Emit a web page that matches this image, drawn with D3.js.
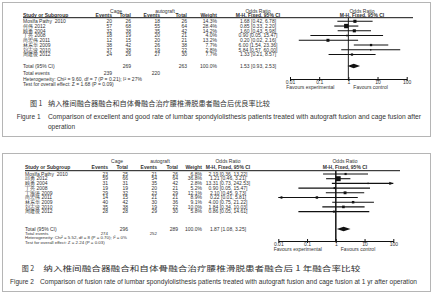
<!DOCTYPE html>
<html>
<head>
<meta charset="utf-8">
<script src="https://cdn.jsdelivr.net/npm/d3@7"></script>
<style>
  body { margin: 0; background: #fff; }
  svg { display: block; font-family: "Liberation Sans", Arial, sans-serif; }
  .cn { font-family: "Noto Sans CJK SC", sans-serif; }
</style>
</head>
<body>
<div id="chart"></div>
<script>
// ---- figure 1 : excellent and good rate ----
var studies1 = ["Moslfa Pathy  2010", "何伟 2012", "顾勇 2004", "丁亮 2008", "尚宏伟 2011", "林东华 2009", "刘志波 2010", "周建俊 2012"];
var cageEvents1 = [20, 57, 32, 18, 12, 38, 37, 24];
var cageTotal1 = [26, 68, 38, 19, 15, 42, 38, 26];
var autoEvents1 = [18, 55, 35, 20, 20, 26, 19, 27];
var autoTotal1 = [26, 64, 42, 21, 21, 38, 22, 30];
var weight1 = [14.3, 28.4, 14.2, 4.0, 13.2, 7.7, 2.8, 7.7];
var or1 = [1.68, 0.85, 1.60, 0.90, 0.20, 6.00, 5.84, 1.33];
var lo1 = [0.42, 0.33, 0.43, 0.05, 0.02, 1.54, 0.57, 0.21];
var hi1 = [6.78, 2.20, 5.98, 15.47, 2.16, 23.36, 60.00, 8.57];
var total1 = { cageTotal: 269, autoTotal: 263, cageEvents: 239, autoEvents: 220, or: 1.53, lo: 0.93, hi: 2.53 };
var hetero1 = "Heterogeneity: Chi² = 9.60, df = 7 (P = 0.21); I² = 27%";
var effect1 = "Test for overall effect: Z = 1.68 (P = 0.09)";

// ---- figure 2 : fusion rate at 1 yr ----
var studies2 = ["Moslfa Pathy  2010", "邱勇 2012", "顾勇 2004", "丁亮 2008", "丁海涛 2009", "尚宏伟 2011", "林东华 2009", "刘志波 2010", "周建俊 2012"];
var cageEvents2 = [23, 59, 31, 19, 29, 14, 40, 35, 28];
var cageTotal2 = [25, 66, 31, 19, 32, 15, 42, 38, 28];
var autoEvents2 = [21, 54, 35, 20, 23, 21, 30, 19, 29];
var autoTotal2 = [26, 64, 42, 21, 29, 21, 36, 22, 30];
var weight2 = [6.8, 36.8, 2.8, 5.2, 12.1, 8.9, 9.1, 10.0, 5.8];
var or2 = [2.19, 1.21, 13.31, 0.90, 2.10, 0.22, 4.00, 1.84, 0.86];
var lo2 = [0.36, 0.46, 0.73, 0.05, 0.45, 0.008, 0.75, 0.34, 0.05];
var hi2 = [13.22, 3.21, 242.53, 15.47, 9.73, 5.81, 21.22, 10.03, 14.61];
var total2 = { cageTotal: 296, autoTotal: 289, cageEvents: 274, autoEvents: 252, or: 1.87, lo: 1.08, hi: 3.25 };
var hetero2 = "Heterogeneity: Chi² = 5.52, df = 8 (P = 0.70); I² = 0%";
var effect2 = "Test for overall effect: Z = 2.24 (P = 0.03)";

var axisTicks = [0.01, 0.1, 1, 10, 100];

var W = 433, H = 300;
var svg = d3.select("#chart").append("svg").attr("width", W).attr("height", H);

function ciText(o, l, h) {
  return o.toFixed(2) + " [" + l.toFixed(2) + ", " + h.toFixed(2) + "]";
}

function forest(g, opt, d) {
  var txt = "#333", fs = 5;
  var x = d3.scaleLog().domain([0.01, 100]).range([opt.x0, opt.x1]);
  var size = d3.scaleSqrt().domain([0, 40]).range([0, 5.2]);

  var rows = d.studies.map(function(s, i) {
    return { name: s, ce: d.ce[i], ct: d.ct[i], ae: d.ae[i], at: d.at[i],
             w: d.w[i], or: d.or[i], lo: d.lo[i], hi: d.hi[i] };
  });
  var rowY = function(i) { return opt.row0 + i * opt.rowH; };

  function t(xp, yp, s, anchor, bold, size) {
    return g.append("text").attr("x", xp).attr("y", yp).attr("dy", "0.35em")
      .attr("text-anchor", anchor || "start")
      .attr("font-size", size || fs).attr("fill", txt)
      .attr("font-weight", bold ? "bold" : null)
      .style("white-space", "pre").text(s);
  }

  // headers
  t(opt.c.cageMid, opt.h1, "Cage", "middle");
  t(opt.c.autoMid, opt.h1, "autograft", "middle");
  t(opt.c.or, opt.h1, "Odds Ratio", "middle");
  t(opt.plotMid, opt.h1, "Odds Ratio", "middle");
  t(opt.c.name, opt.h2, "Study or Subgroup", "start", true);
  t(opt.c.ce, opt.h2, "Events", "end", true);
  t(opt.c.ct, opt.h2, "Total", "end", true);
  t(opt.c.ae, opt.h2, "Events", "end", true);
  t(opt.c.at, opt.h2, "Total", "end", true);
  t(opt.c.w, opt.h2, "Weight", "end", true);
  t(opt.c.or, opt.h2, "M-H, Fixed, 95% CI", "middle", true);
  t(opt.plotMid, opt.h2, "M-H, Fixed, 95% CI", "middle", true);

  g.append("line").attr("x1", opt.c.name).attr("x2", opt.lineEnd)
    .attr("y1", opt.hLine).attr("y2", opt.hLine)
    .attr("stroke", "#111").attr("stroke-width", 1);

  // study rows
  rows.forEach(function(r, i) {
    var y = rowY(i);
    t(opt.c.name, y, r.name);
    t(opt.c.ce, y, r.ce, "end");
    t(opt.c.ct, y, r.ct, "end");
    t(opt.c.ae, y, r.ae, "end");
    t(opt.c.at, y, r.at, "end");
    t(opt.c.w, y, r.w.toFixed(1) + "%", "end");
    t(opt.c.or, y, ciText(r.or, r.lo, r.hi), "middle");
  });

  // null line
  g.append("line").attr("x1", x(1)).attr("x2", x(1))
    .attr("y1", opt.hLine).attr("y2", opt.axisY)
    .attr("stroke", "#222").attr("stroke-width", opt.nullW);

  // confidence intervals
  var ci = g.selectAll(".ci").data(rows).enter().append("g").attr("class", "ci");
  ci.append("line")
    .attr("x1", function(r) { return x(Math.max(r.lo, 0.01)); })
    .attr("x2", function(r) { return x(Math.min(r.hi, 100)); })
    .attr("y1", function(r, i) { return rowY(i); })
    .attr("y2", function(r, i) { return rowY(i); })
    .attr("stroke", "#111").attr("stroke-width", 1.1);
  ci.filter(function(r) { return r.lo < 0.01; }).append("path")
    .attr("d", function(r) {
      var i = rows.indexOf(r), y = rowY(i), xx = x(0.01);
      return "M" + xx + "," + y + "l4,-1.6l0,3.2z";
    }).attr("fill", "#111");
  ci.filter(function(r) { return r.hi > 100; }).append("path")
    .attr("d", function(r) {
      var i = rows.indexOf(r), y = rowY(i), xx = x(100);
      return "M" + xx + "," + y + "l-4,-1.6l0,3.2z";
    }).attr("fill", "#111");
  ci.append("rect")
    .attr("x", function(r) { return x(r.or) - Math.max(size(r.w), 1.4) / 2; })
    .attr("y", function(r, i) { return rowY(i) - Math.max(size(r.w), 1.4) / 2; })
    .attr("width", function(r) { return Math.max(size(r.w), 1.4); })
    .attr("height", function(r) { return Math.max(size(r.w), 1.4); })
    .attr("fill", "#111");

  // total
  var tt = d.total;
  t(opt.c.name, opt.totY, "Total (95% CI)");
  t(opt.c.ct, opt.totY, tt.cageTotal, "end");
  t(opt.c.at, opt.totY, tt.autoTotal, "end");
  t(opt.c.w, opt.totY, "100.0%", "end");
  t(opt.c.or, opt.totY, ciText(tt.or, tt.lo, tt.hi), "middle");
  g.append("path")
    .attr("d", "M" + x(tt.lo) + "," + opt.totY + "L" + x(tt.or) + "," + (opt.totY - 2.2) +
               "L" + x(tt.hi) + "," + opt.totY + "L" + x(tt.or) + "," + (opt.totY + 2.2) + "Z")
    .attr("fill", "#111");

  var ffs = opt.footFs || fs;
  t(opt.c.name, opt.evY, "Total events", "start", false, ffs);
  t(opt.c.ce, opt.evY, tt.cageEvents, "end", false, ffs);
  t(opt.c.ae, opt.evY, tt.autoEvents, "end", false, ffs);
  t(opt.c.name, opt.hetY, d.hetero, "start", false, ffs);
  t(opt.c.name, opt.effY, d.effect, "start", false, ffs);

  // axis
  var axis = d3.axisBottom(x).tickValues(axisTicks)
    .tickFormat(d3.format("~g")).tickSizeInner(0).tickSizeOuter(0).tickPadding(1.5);
  var ag = g.append("g").attr("transform", "translate(0," + opt.axisY + ")").call(axis);
  ag.select(".domain").attr("stroke", "#111");
  ag.selectAll(".tick line").attr("y1", -2).attr("y2", 2).attr("stroke", "#111");
  ag.selectAll(".tick text").attr("font-size", fs).attr("fill", txt)
    .attr("font-family", "Liberation Sans, Arial, sans-serif");
  t(x(1) - 14, opt.favY, "Favours experimental", "end");
  t(x(1) + 5, opt.favY, "Favours control", "start");
}

// panel frames
svg.append("rect").attr("x", 2.5).attr("y", 2.5).attr("width", 428).attr("height", 134)
  .attr("fill", "none").attr("stroke", "#b5b5b5");
svg.append("rect").attr("x", 2.5).attr("y", 153.5).attr("width", 428).attr("height", 138)
  .attr("fill", "none").attr("stroke", "#b5b5b5");

forest(svg.append("g"), {
  x0: 290, x1: 406.7, plotMid: 362, lineEnd: 413, nullW: 1,
  c: { name: 23, ce: 112, ct: 131, ae: 160, at: 187, w: 217, or: 258, cageMid: 116, autoMid: 165 },
  h1: 11, h2: 15.5, hLine: 17.7, row0: 21.3, rowH: 4.75,
  totY: 66, evY: 73.5, hetY: 79, effY: 84.5, axisY: 79, favY: 87
}, { studies: studies1, ce: cageEvents1, ct: cageTotal1, ae: autoEvents1, at: autoTotal1,
     w: weight1, or: or1, lo: lo1, hi: hi1, total: total1, hetero: hetero1, effect: effect1 });

forest(svg.append("g"), {
  x0: 278.3, x1: 393.3, plotMid: 345, lineEnd: 400, nullW: 1.6, footFs: 4.4,
  c: { name: 25, ce: 108, ct: 128, ae: 157, at: 178, w: 202, or: 228, cageMid: 117, autoMid: 160 },
  h1: 161.7, h2: 167, hLine: 170.7, row0: 174, rowH: 4.7,
  totY: 229, evY: 233.6, hetY: 237.8, effY: 242, axisY: 241, favY: 249
}, { studies: studies2, ce: cageEvents2, ct: cageTotal2, ae: autoEvents2, at: autoTotal2,
     w: weight2, or: or2, lo: lo2, hi: hi2, total: total2, hetero: hetero2, effect: effect2 });

// captions
function cap(xp, yp, s, size, len, cls) {
  var el = svg.append("text").attr("x", xp).attr("y", yp).attr("dy", "0.35em")
    .attr("font-size", size).attr("fill", "#333").text(s);
  if (cls) el.attr("class", cls);
  if (len) el.attr("textLength", len).attr("lengthAdjust", "spacingAndGlyphs");
  return el;
}
cap(30, 103.5, "图 1", 7, null, "cn");
cap(48, 103.5, "纳入椎间融合器融合和自体骨融合治疗腰椎滑脱患者融合后优良率比较", 7, 222, "cn");
cap(16.7, 116.5, "Figure 1", 6.5);
cap(48, 116.5, "Comparison of excellent and good rate of lumbar spondylolisthesis patients treated with autograft fusion and cage fusion after", 6.5, 373);
cap(48, 126.5, "operation", 6.5);

cap(21.7, 268.3, "图 2", 7, null, "cn");
cap(43.3, 268.3, "纳入椎间融合器融合和自体骨融合治疗腰椎滑脱患者融合后 1 年融合率比较", 7, 317, "cn");
cap(10, 281.7, "Figure 2", 6.5);
cap(40, 281.7, "Comparison of fusion rate of lumbar spondylolisthesis patients treated with autograft fusion and cage fusion at 1 yr after operation", 6.5, 377);
</script>
</body>
</html>
